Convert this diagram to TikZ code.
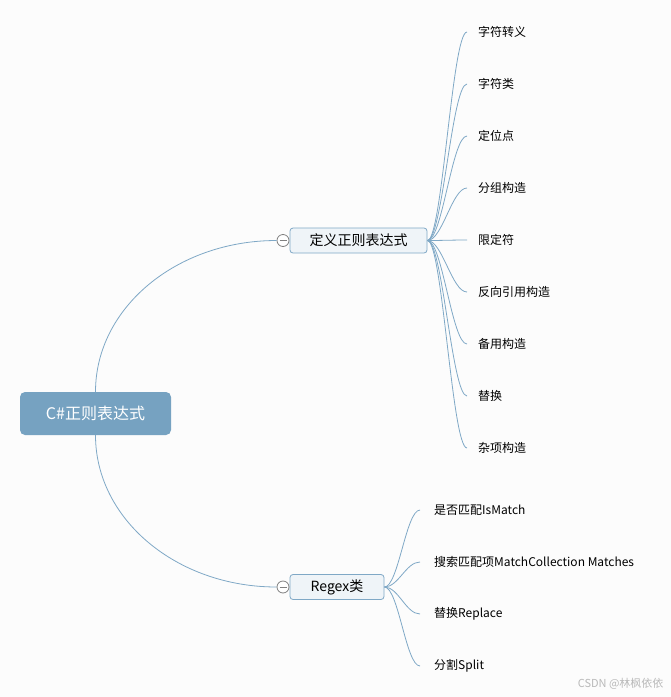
\documentclass[tikz,border=0pt]{standalone}
\usepackage{fontspec}
\setmainfont{Noto Sans CJK SC}
\usepackage{xcolor}
\usepackage{tikz}
\usetikzlibrary{positioning}
\definecolor{rootblue}{HTML}{76A2C1}
\definecolor{linkblue}{HTML}{7FA8C6}
\definecolor{topicfill}{HTML}{EFF4F8}
\definecolor{bggray}{HTML}{FCFCFC}

\begin{document}
\begin{tikzpicture}[x=1pt,y=-1pt,
root/.style={fill=rootblue,rounded corners=5pt,text=white,minimum width=151pt,minimum height=43pt,font=\fontsize{16}{18}\selectfont},
topic/.style={draw=linkblue,fill=topicfill,rounded corners=3pt,minimum height=25pt,line width=0.8pt,font=\fontsize{14}{16}\selectfont},
leaf/.style={anchor=west,inner xsep=11pt,inner ysep=2pt,font=\fontsize{12}{14}\selectfont},
link/.style={draw=linkblue,line width=0.8pt},
fold/.style={circle,draw=gray,fill=white,minimum size=12pt,inner sep=0pt,line width=0.8pt}]
\fill[bggray](0,0)rectangle(671,697);
\useasboundingbox(0,0)rectangle(671,697);
% main topics
\node[root](root)at(95.5,413.5){C\#正则表达式};
\node[topic,minimum width=137pt](def)at(358.5,240.5){定义正则表达式};
\node[topic,minimum width=94pt](regex)at(337,587){Regex类};
\node[fold](fold1)at(283,240.5){};
\node[fold](fold2)at(283,587){};
\draw[gray,line width=0.8pt]([xshift=-3.5pt]fold1.center)--([xshift=3.5pt]fold1.center)
([xshift=-3.5pt]fold2.center)--([xshift=3.5pt]fold2.center);
\draw[link](root.north)..controls +(0,-84) and +(-100,0)..(fold1.west);
\draw[link](root.south)..controls +(0,84) and +(-100,0)..(fold2.west);
% leaves
\foreach \t [count=\i] in {字符转义,字符类,定位点,分组构造,限定符,反向引用构造,备用构造,替换,杂项构造}{
\node[leaf](d\i)at(467,{-20+52*\i}){\t};
\draw[link](def.east)..controls +(15,0) and +(-15,0)..(d\i.west);
}
\foreach \t [count=\i] in {是否匹配IsMatch,搜索匹配项MatchCollection Matches,替换Replace,分割Split}{
\node[leaf,inner xsep=14pt](r\i)at(420,{458+52*\i}){\t};
\draw[link](regex.east)..controls +(14,0) and +(-14,0)..(r\i.west);
}
\node[anchor=east,text=gray!55,font=\fontsize{11}{12}\selectfont](mark)at(667,684){CSDN @林枫依依};
\end{tikzpicture}
\end{document}
